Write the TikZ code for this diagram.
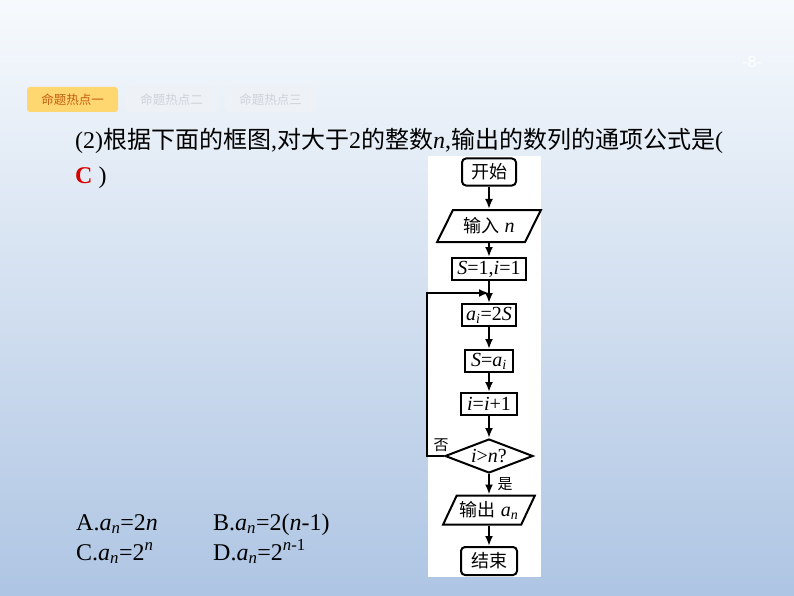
\documentclass[tikz,border=0pt]{standalone}
\usepackage{fontspec}
\setmainfont{Liberation Serif}
\newfontfamily\cjk{Noto Sans CJK SC}
\newfontfamily\pagefont{Liberation Sans}
\usetikzlibrary{arrows.meta,positioning,shapes.geometric}
\newcommand{\mi}[1]{\textit{#1}}
\newcommand{\msub}[1]{\textsubscript{\textit{#1}}}
\newcommand{\fz}[1]{{\cjk\fontsize{18}{20}\selectfont #1}}
\definecolor{bgtop}{RGB}{247,250,253}
\definecolor{bgmid}{RGB}{210,224,240}
\definecolor{bgbot}{RGB}{174,197,227}
\definecolor{tabon}{RGB}{255,215,112}
\definecolor{tabontext}{RGB}{196,92,18}
\definecolor{taboff}{RGB}{238,241,246}
\definecolor{tabofftext}{RGB}{206,210,217}
\definecolor{answer}{RGB}{215,0,0}

\begin{document}
\begin{tikzpicture}[x=1pt, y=-1pt, >={Latex[length=10pt,width=8pt]},
  tab/.style={rounded corners=3pt, minimum width=91pt, minimum height=25pt, inner sep=0pt, font=\cjk\fontsize{12.5}{14}\selectfont},
  term/.style={draw, rounded corners=4pt, line width=2pt, minimum width=54pt, minimum height=27pt, inner sep=0pt, font=\fontsize{20}{22}\selectfont},
  proc/.style={term, sharp corners, minimum height=22pt},
  io/.style={term, sharp corners, trapezium, trapezium left angle=56, trapezium right angle=124, trapezium stretches=true},
  test/.style={term, sharp corners, diamond, aspect=2.6, minimum width=88pt, minimum height=34pt},
  lab/.style={inner sep=0pt, font=\cjk\fontsize{15}{17}\selectfont},
  txt/.style={anchor=base west, inner sep=0pt, font=\fontsize{24}{28}\selectfont},
  flow/.style={->, line width=2pt}]
\useasboundingbox (0,0) rectangle (794,596);
\shade[top color=bgtop, middle color=bgmid, bottom color=bgbot] (0,0) rectangle (794,596);
\node[text=white, font=\pagefont\fontsize{16}{18}\selectfont] (page) at (752,62) {-8-};
\node[tab, fill=tabon, text=tabontext] (tabA) at (72.5,99.5) {命题热点一};
\node[tab, fill=taboff, text=tabofftext] (tabB) at (171.5,99.5) {命题热点二};
\node[tab, fill=taboff, text=tabofftext] (tabC) at (270.5,99.5) {命题热点三};
\node[txt] (q1) at (75,149) {(2){\cjk 根据下面的框图},{\cjk 对大于}2{\cjk 的整数}\mi{n},{\cjk 输出的数列的通项公式是}(};
\node[txt] (q2) at (75,183) {\textcolor{answer}{\textbf{C}} )};
\node[txt] (optA) at (76,530) {A.\mi{a}\msub{n}=2\mi{n}};
\node[txt] (optB) at (213,530) {B.\mi{a}\msub{n}=2(\mi{n}-1)};
\node[txt] (optC) at (76,560) {C.\mi{a}\msub{n}=2\textsuperscript{\mi{n}}};
\node[txt] (optD) at (213,560) {D.\mi{a}\msub{n}=2\textsuperscript{\mi{n}-1}};
\fill[white] (428,156) rectangle (541,577);
\node[term] (start) at (489,172) {\fz{开始}};
\node[io, minimum width=104pt, minimum height=32pt] (input) at (489,226) {\fz{输入} \mi{n}};
\node[proc, minimum width=74pt] (init) at (489,269) {\mi{S}=1,\mi{i}=1};
\coordinate (join) at (489,293);
\node[proc] (gen) at (489,315) {\mi{a}\msub{i}=2\mi{S}};
\node[proc, minimum width=48pt] (update) at (489,361) {\mi{S}=\mi{a}\msub{i}};
\node[proc, minimum width=56pt] (incr) at (489,404) {\mi{i}=\mi{i}+1};
\node[test] (check) at (489,456) {\mi{i}>\mi{n}?};
\node[io, minimum width=92pt, minimum height=29pt] (output) at (489,510) {\fz{输出} \mi{a}\msub{n}};
\node[term, minimum width=56pt, minimum height=28pt] (stop) at (489,561) {\fz{结束}};
\draw[flow] (start) -- (input); \draw[flow] (input) -- (init); \draw[flow] (init) -- (gen); \draw[flow] (gen) -- (update); \draw[flow] (update) -- (incr); \draw[flow] (incr) -- (check); \draw[flow] (check) -- (output); \draw[flow] (output) -- (stop);
\draw[flow] (check.west) -- ++(-17,0) |- (join);
\node[lab] (no) at (441,445) {否};
\node[lab] (yes) at (505,484) {是};
\end{tikzpicture}
\end{document}
